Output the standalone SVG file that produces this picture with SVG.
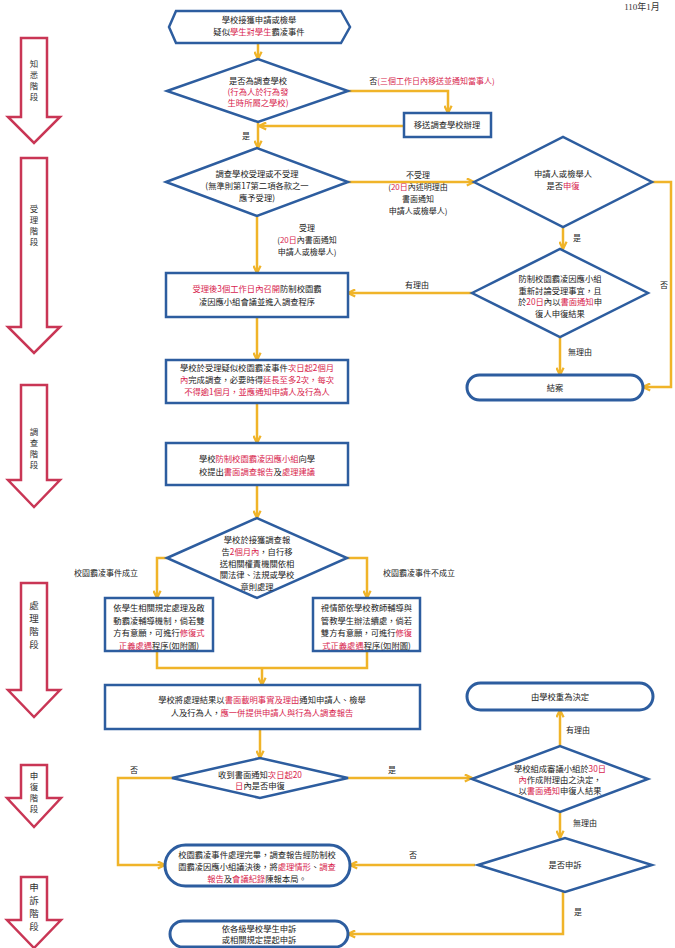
<svg xmlns="http://www.w3.org/2000/svg" width="675" height="948" viewBox="0 0 675 948">
<style>
.n{fill:#fff;stroke:#2d5d9f;stroke-width:2.5}
.s{fill:#fff;stroke:#2d5d9f;stroke-width:3}
.t{font-family:"Noto Sans CJK TC","Noto Sans CJK SC",sans-serif;font-size:8.3px;fill:#222;text-anchor:middle}
.l{font-family:"Noto Sans CJK TC","Noto Sans CJK SC",sans-serif;font-size:8px;fill:#222;text-anchor:middle}
.v{font-family:"Noto Sans CJK TC","Noto Sans CJK SC",sans-serif;font-size:8.5px;fill:#333;text-anchor:middle}
.r{fill:#d81e4e}
.c{fill:none;stroke:#f0b429;stroke-width:2.5}
.p{fill:#fff;stroke:#c93655;stroke-width:2.5;stroke-linejoin:miter}
</style>
<defs>
<marker id="a" viewBox="0 0 10 10" refX="9" refY="5" markerWidth="9" markerHeight="9" markerUnits="userSpaceOnUse" orient="auto">
<path d="M1,1 L9,5 L1,9" fill="none" stroke="#f0b429" stroke-width="2.5"/>
</marker>
</defs>
<rect width="675" height="948" fill="#fff"/>
<text x="642" y="10" style="font-family:'Liberation Serif','Noto Sans CJK TC',serif;font-size:9px;fill:#333;text-anchor:middle">110年1月</text>

<g id="phases">
<g id="phase1"><polygon class="p" points="21,38 47,38 47,117 60,117 34,143 8,117 21,117"/>
<text class="v"><tspan x="34" y="67">知</tspan><tspan x="34" y="78">悉</tspan><tspan x="34" y="89">階</tspan><tspan x="34" y="100">段</tspan></text></g>
<g id="phase2"><polygon class="p" points="21,158 47,158 47,327 60,327 34,353 8,327 21,327"/>
<text class="v"><tspan x="34" y="212">受</tspan><tspan x="34" y="223">理</tspan><tspan x="34" y="234">階</tspan><tspan x="34" y="245">段</tspan></text></g>
<g id="phase3"><polygon class="p" points="21,385 47,385 47,480 60,480 34,507 8,480 21,480"/>
<text class="v"><tspan x="34" y="435">調</tspan><tspan x="34" y="446">查</tspan><tspan x="34" y="457">階</tspan><tspan x="34" y="468">段</tspan></text></g>
<g id="phase4"><polygon class="p" points="21,583 47,583 47,690 60,690 34,717 8,690 21,690"/>
<text class="v" style="font-size:9.5px"><tspan x="34" y="609">處</tspan><tspan x="34" y="622">理</tspan><tspan x="34" y="635">階</tspan><tspan x="34" y="648">段</tspan></text></g>
<g id="phase5"><polygon class="p" points="21,765 47,765 47,798 61,798 34,827 7,798 21,798"/>
<text class="v"><tspan x="34" y="779">申</tspan><tspan x="34" y="790">復</tspan><tspan x="34" y="801">階</tspan><tspan x="34" y="812">段</tspan></text></g>
<g id="phase6"><polygon class="p" points="21,877 47,877 47,920 61,920 34,948 7,920 21,920"/>
<text class="v" style="font-size:9.5px"><tspan x="34" y="891">申</tspan><tspan x="34" y="904">訴</tspan><tspan x="34" y="917">階</tspan><tspan x="34" y="930">段</tspan></text></g>
</g>

<g id="connectors">
<line class="c" x1="258" y1="43" x2="258" y2="59" marker-end="url(#a)"/>
<polyline class="c" points="348,91 448,91 448,113" marker-end="url(#a)"/>
<line class="c" x1="404" y1="126" x2="259" y2="126" marker-end="url(#a)"/>
<line class="c" x1="258" y1="122" x2="258" y2="148" marker-end="url(#a)"/>
<line class="c" x1="348" y1="182" x2="474" y2="182" marker-end="url(#a)"/>
<polyline class="c" points="652,182 671,182 671,387 643,387" marker-end="url(#a)"/>
<line class="c" x1="563" y1="227" x2="563" y2="249" marker-end="url(#a)"/>
<line class="c" x1="472" y1="293" x2="348" y2="293" marker-end="url(#a)"/>
<line class="c" x1="560" y1="337" x2="560" y2="375" marker-end="url(#a)"/>
<line class="c" x1="257" y1="216" x2="257" y2="273" marker-end="url(#a)"/>
<line class="c" x1="257" y1="317" x2="257" y2="360" marker-end="url(#a)"/>
<line class="c" x1="257" y1="403" x2="257" y2="443" marker-end="url(#a)"/>
<line class="c" x1="257" y1="485" x2="257" y2="518" marker-end="url(#a)"/>
<polyline class="c" points="167,558 157,558 157,598" marker-end="url(#a)"/>
<polyline class="c" points="347,558 367,558 367,598" marker-end="url(#a)"/>
<polyline class="c" points="157,651 157,668 367,668 367,651"/>
<line class="c" x1="262" y1="668" x2="262" y2="685" marker-end="url(#a)"/>
<line class="c" x1="260" y1="729" x2="260" y2="758" marker-end="url(#a)"/>
<polyline class="c" points="172,778 118,778 118,865 165,865" marker-end="url(#a)"/>
<line class="c" x1="348" y1="778" x2="472" y2="778" marker-end="url(#a)"/>
<line class="c" x1="560" y1="746" x2="560" y2="710" marker-end="url(#a)"/>
<line class="c" x1="560" y1="812" x2="560" y2="838" marker-end="url(#a)"/>
<line class="c" x1="475" y1="865" x2="350" y2="865" marker-end="url(#a)"/>
<polyline class="c" points="563,892 563,934 348,934" marker-end="url(#a)"/>
<text class="l" x="432" y="84">否<tspan class="r">(三個工作日內移送並通知當事人)</tspan></text>
<text class="l" x="246" y="139">是</text>
<text class="l"><tspan x="418" y="178">不受理</tspan><tspan x="418" y="190">(<tspan class="r">20日</tspan>內述明理由</tspan><tspan x="418" y="202">書面通知</tspan><tspan x="418" y="214">申請人或檢舉人)</tspan></text>
<text class="l"><tspan x="307" y="231">受理</tspan><tspan x="307" y="243">(<tspan class="r">20日</tspan>內書面通知</tspan><tspan x="307" y="255">申請人或檢舉人)</tspan></text>
<text class="l" x="577" y="241">是</text>
<text class="l" x="664" y="288">否</text>
<text class="l" x="417" y="288">有理由</text>
<text class="l" x="580" y="355">無理由</text>
<text class="l" x="106" y="576">校園霸凌事件成立</text>
<text class="l" x="419" y="576">校園霸凌事件不成立</text>
<text class="l" x="134" y="773">否</text>
<text class="l" x="392" y="773">是</text>
<text class="l" x="578" y="733">有理由</text>
<text class="l" x="585" y="826">無理由</text>
<text class="l" x="413" y="858">否</text>
<text class="l" x="578" y="915">是</text>
</g>

<g id="start">
<polygon class="n" points="169,27 176,11 341,11 350,27 341,43 176,43"/>
<text class="t"><tspan x="259" y="23">學校接獲申請或檢舉</tspan><tspan x="259" y="35">疑似<tspan class="r">學生對學生</tspan>霸凌事件</tspan></text>
</g>
<g id="d1">
<polygon class="n" points="167,91 258,59 348,91 258,122"/>
<text class="t"><tspan x="258" y="84">是否為調查學校</tspan><tspan class="r" x="258" y="95">(行為人於行為發</tspan><tspan class="r" x="258" y="106">生時所屬之學校)</tspan></text>
</g>
<g id="transfer">
<rect class="n" x="404" y="113" width="87" height="24"/>
<text class="t" x="447" y="128">移送調查學校辦理</text>
</g>
<g id="d2">
<polygon class="n" points="166,182 257,148 348,182 257,216"/>
<text class="t"><tspan x="257" y="177">調查學校受理或不受理</tspan><tspan x="257" y="189">(無準則第17第二項各款之一</tspan><tspan x="257" y="201">應予受理)</tspan></text>
</g>
<g id="d3">
<polygon class="n" points="474,182 563,137 652,182 563,227"/>
<text class="t"><tspan x="563" y="177">申請人或檢舉人</tspan><tspan x="563" y="189">是否<tspan class="r">申復</tspan></tspan></text>
</g>
<g id="d4">
<polygon class="n" points="472,293 560,249 648,293 560,337"/>
<text class="t"><tspan x="560" y="282">防制校園霸凌因應小組</tspan><tspan x="560" y="293.5">重新討論受理事宜，且</tspan><tspan x="560" y="305">於<tspan class="r">20日</tspan>內以<tspan class="r">書面通知</tspan>申</tspan><tspan x="560" y="316.5">復人申復結果</tspan></text>
</g>
<g id="close">
<rect class="s" x="467" y="375" width="176" height="25" rx="12.5"/>
<text class="t" x="555" y="391">結案</text>
</g>
<g id="accept">
<rect class="n" x="166" y="273" width="182" height="44"/>
<text class="t"><tspan x="257" y="292"><tspan class="r">受理後3個工作日內召開</tspan>防制校園霸</tspan><tspan x="257" y="305">凌因應小組會議並進入調查程序</tspan></text>
</g>
<g id="investigate">
<rect class="n" x="166" y="360" width="182" height="43"/>
<text class="t"><tspan x="257" y="371">學校於受理疑似校園霸凌事件<tspan class="r">次日起2個月</tspan></tspan><tspan x="257" y="383"><tspan class="r">內</tspan>完成調查，必要時得<tspan class="r">延長至多2次，每次</tspan></tspan><tspan class="r" x="257" y="395">不得逾1個月，並應通知申請人及行為人</tspan></text>
</g>
<g id="report">
<rect class="n" x="166" y="443" width="182" height="42"/>
<text class="t"><tspan x="257" y="462">學校<tspan class="r">防制校園霸凌因應小組</tspan>向學</tspan><tspan x="257" y="475">校提出<tspan class="r">書面調查報告</tspan>及<tspan class="r">處理建議</tspan></tspan></text>
</g>
<g id="d5">
<polygon class="n" points="167,558 257,518 347,558 257,598"/>
<text class="t"><tspan x="257" y="543">學校於接獲調查報</tspan><tspan x="257" y="555">告<tspan class="r">2個月內</tspan>，自行移</tspan><tspan x="257" y="566.5">送相關權責機關依相</tspan><tspan x="257" y="578">關法律、法規或學校</tspan><tspan x="257" y="589.5">章則處理</tspan></text>
</g>
<g id="established">
<rect class="n" x="105" y="598" width="108" height="53"/>
<text class="t"><tspan x="159" y="611">依學生相關規定處理及啟</tspan><tspan x="159" y="623.5">動霸凌輔導機制，倘若雙</tspan><tspan x="159" y="636">方有意願，可進行<tspan class="r">修復式</tspan></tspan><tspan x="159" y="648.5"><tspan class="r">正義處遇</tspan>程序(如附圖)</tspan></text>
</g>
<g id="notestablished">
<rect class="n" x="313" y="598" width="107" height="53"/>
<text class="t"><tspan x="366.5" y="611">視情節依學校教師輔導與</tspan><tspan x="366.5" y="623.5">管教學生辦法續處，倘若</tspan><tspan x="366.5" y="636">雙方有意願，可進行<tspan class="r">修復</tspan></tspan><tspan x="366.5" y="648.5"><tspan class="r">式正義處遇</tspan>程序(如附圖)</tspan></text>
</g>
<g id="notify">
<rect class="n" x="105" y="685" width="315" height="44"/>
<text class="t"><tspan x="262" y="703">學校將處理結果以<tspan class="r">書面載明事實及理由</tspan>通知申請人、檢舉</tspan><tspan x="262" y="716">人及行為人，<tspan class="r">應一併提供申請人與行為人調查報告</tspan></tspan></text>
</g>
<g id="d7">
<polygon class="n" points="172,778 260,758 348,778 260,798"/>
<text class="t"><tspan x="260" y="778">收到書面通知<tspan class="r">次日起20</tspan></tspan><tspan x="260" y="789"><tspan class="r">日</tspan>內是否申復</tspan></text>
</g>
<g id="redecide">
<rect class="s" x="467" y="683" width="186" height="27" rx="13.5"/>
<text class="t" x="560" y="700">由學校重為決定</text>
</g>
<g id="d6">
<polygon class="n" points="472,779 560,746 648,779 560,812"/>
<text class="t"><tspan x="560" y="772">學校組成審議小組於<tspan class="r">30日</tspan></tspan><tspan x="560" y="783"><tspan class="r">內</tspan>作成附理由之決定，</tspan><tspan x="560" y="794">以<tspan class="r">書面通知</tspan>申復人結果</tspan></text>
</g>
<g id="d8">
<polygon class="n" points="478,865 565,838 652,865 565,892"/>
<text class="t" x="565" y="868">是否申訴</text>
</g>
<g id="finish">
<rect class="s" x="165" y="845" width="185" height="41" rx="20.5"/>
<text class="t"><tspan x="257" y="858">校園霸凌事件處理完畢，調查報告經防制校</tspan><tspan x="257" y="870">園霸凌因應小組議決後，將<tspan class="r">處理情形</tspan>、<tspan class="r">調查</tspan></tspan><tspan x="257" y="882"><tspan class="r">報告</tspan>及<tspan class="r">會議紀錄</tspan>陳報本局。</tspan></text>
</g>
<g id="appeal">
<rect class="s" x="170" y="921" width="178" height="26" rx="13"/>
<text class="t"><tspan x="259" y="932">依各級學校學生申訴</tspan><tspan x="259" y="943">或相關規定提起申訴</tspan></text>
</g>
</svg>
